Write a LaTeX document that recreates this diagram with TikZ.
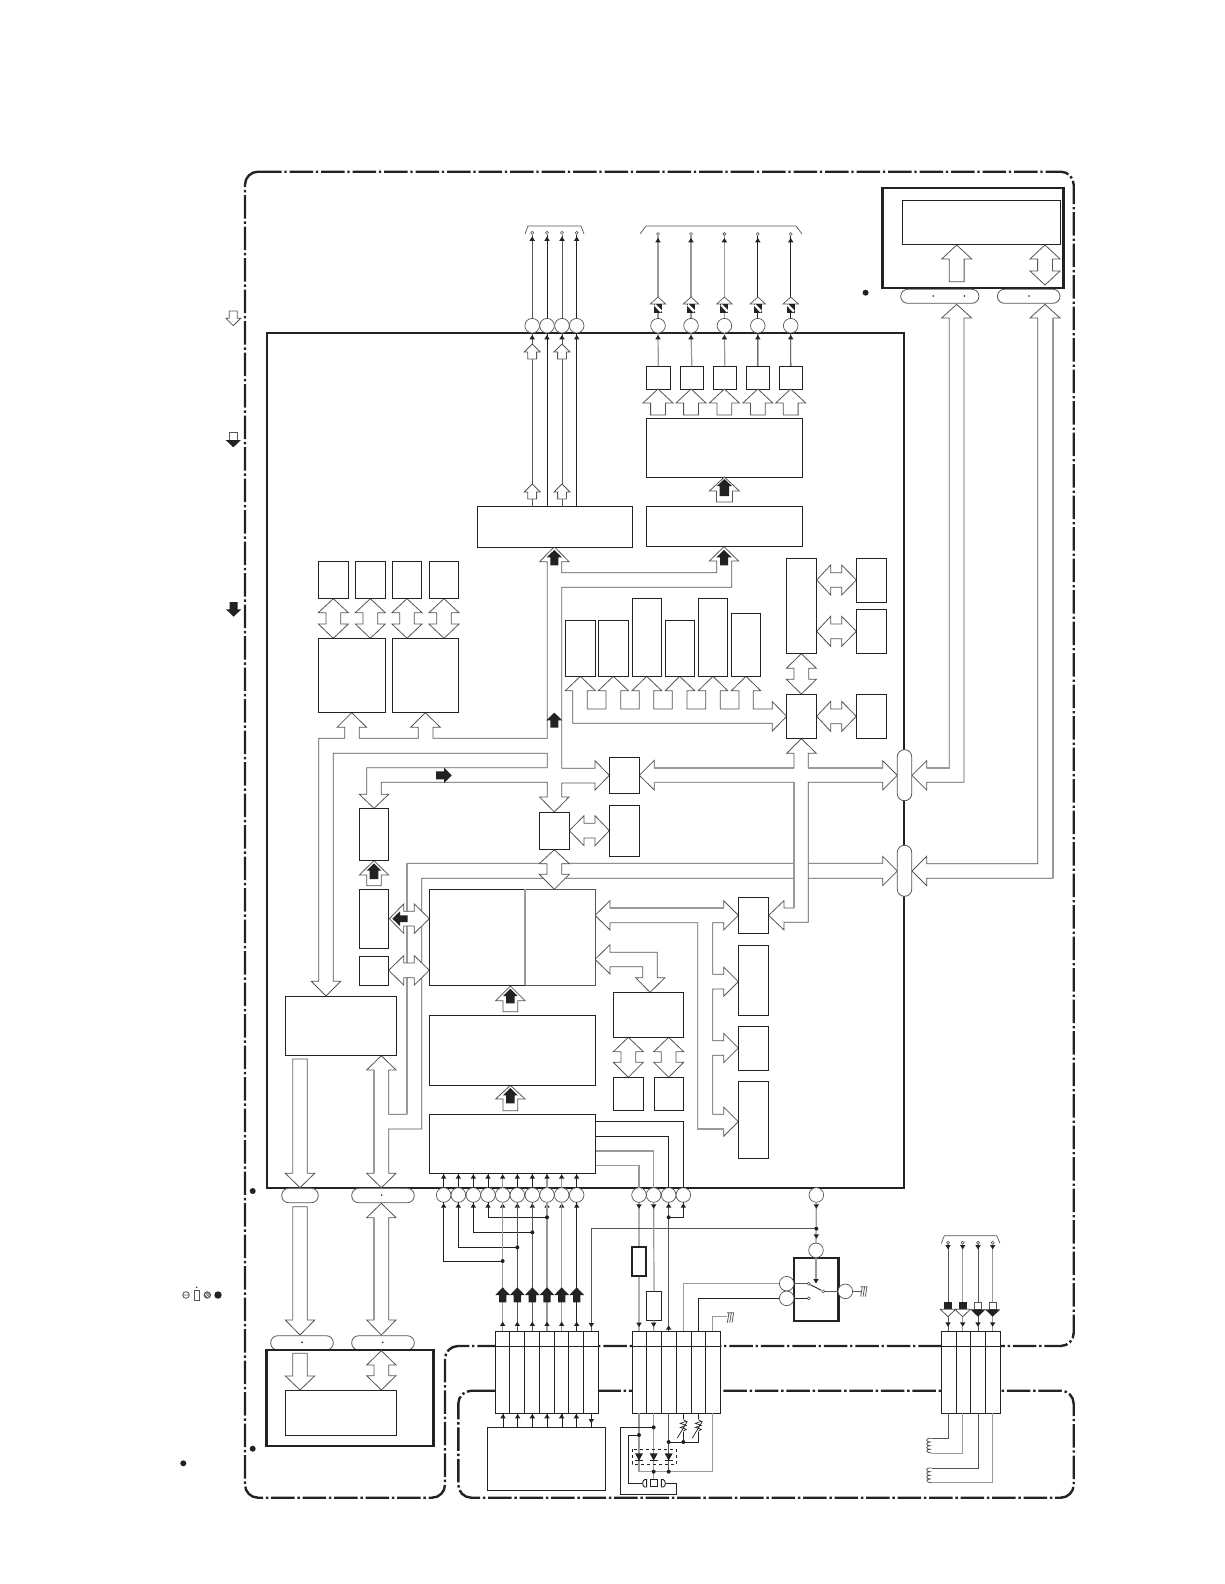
\documentclass[tikz,border=0pt]{standalone}
\definecolor{ink}{HTML}{222222}
\definecolor{gry}{HTML}{9A9A9A}
\definecolor{ol}{HTML}{555555}
\tikzset{
 wd/.style={draw=ink,line width=.9pt},
 wg/.style={draw=gry,line width=1.2pt},
 wm/.style={draw=ol,line width=.8pt},
 blk/.style={draw=ol,fill=white,line width=.8pt,line join=miter},
 bk/.style={fill=ink,draw=none},
 boxst/.style={draw=ink,fill=white,line width=.9pt,inner sep=0pt,outer sep=0pt},
 thickbox/.style={line width=2.6pt},
 pinst/.style={circle,draw=ol,fill=white,line width=.7pt,minimum size=14.6pt,inner sep=0pt,outer sep=0pt},
 pillst/.style={draw=ol,fill=white,line width=.8pt,rounded corners=7pt,inner sep=0pt,outer sep=0pt},
 frm/.style={draw=ink,line width=2.4pt,rounded corners=13pt,dash pattern=on 23.5pt off 2.8pt on 2.4pt off 2.8pt},
 zs/.style 2 args={shift={(#1,#2)},x=.33333pt,y=-.33333pt}
}
\newcommand\bx[6][]{\node[boxst,#1,minimum width={(#5-#3)*1pt},minimum height={(#6-#4)*1pt}] (#2) at ({(#3+#5)/2},{(#4+#6)/2}) {};}
\newcommand\pil[5]{\node[pillst,minimum width={(#4-#2)*1pt},minimum height={(#5-#3)*1pt}] (#1) at ({(#2+#4)/2},{(#3+#5)/2}) {};}
\newcommand\pinc[3]{\node[pinst] (#1) at (#2,#3) {};}
\newcommand\blkU[7][blk]{\path[#1] (#2,#3) -- ({#2+#6},#4) -- ({#2+#7},#4) -- ({#2+#7},#5) -- ({#2-#7},#5) -- ({#2-#7},#4) -- ({#2-#6},#4) -- cycle;}
\newcommand\blkH[7][blk]{\path[#1] (#3,#2) -- (#4,{#2+#6}) -- (#4,{#2+#7}) -- (#5,{#2+#7}) -- (#5,{#2-#7}) -- (#4,{#2-#7}) -- (#4,{#2-#6}) -- cycle;}
\newcommand\dblV[7]{\path[blk] (#1,#2) -- ({#1+#6},#3) -- ({#1+#7},#3) -- ({#1+#7},#4) -- ({#1+#6},#4) -- (#1,#5) -- ({#1-#6},#4) -- ({#1-#7},#4) -- ({#1-#7},#3) -- ({#1-#6},#3) -- cycle;}
\newcommand\dblH[7]{\path[blk] (#2,#1) -- (#3,{#1+#6}) -- (#3,{#1+#7}) -- (#4,{#1+#7}) -- (#4,{#1+#6}) -- (#5,#1) -- (#4,{#1-#6}) -- (#4,{#1-#7}) -- (#3,{#1-#7}) -- (#3,{#1-#6}) -- cycle;}
\newcommand\tipU[2]{\fill[ink] (#1,#2) -- ++(2.7pt,-4.3pt) -- ++(-5.4pt,0pt) -- cycle;}
\newcommand\tipD[2]{\fill[ink] (#1,#2) -- ++(2.7pt,4.3pt) -- ++(-5.4pt,0pt) -- cycle;}
\newcommand\jdot[2]{\fill[ink] (#1,#2) circle[radius=2pt];}
\newcommand\sdot[2]{\fill[ink] (#1,#2) circle[radius=.9pt];}
\newcommand\term[2]{\draw[wm,fill=white,line width=.6pt] (#1,#2) circle[radius=1.5pt];}
\newcommand\gndsym[2]{\draw[wm,line width=.8pt] ({#1-1},{#2-14}) -- ({#1+19},{#2-14}) ({#1+5},{#2-14}) -- (#1,{#2+16}) ({#1+12},{#2-14}) -- ({#1+7},{#2+16}) ({#1+19},{#2-14}) -- ({#1+14},{#2+16});}
\newcommand\vres[2]{\draw[wd,line width=.7pt] (#1,{#2-5}) -- ({#1+9},{#2}) -- ({#1-9},{#2+6}) -- ({#1+9},{#2+12}) -- ({#1-9},{#2+18}) -- ({#1+9},{#2+24}) -- (#1,{#2+30}); \draw[wd,line width=.7pt] ({#1-18},{#2+50}) -- ({#1+12},{#2});}
\newcommand\coil[2]{\draw[wm] ({#1+10},{#2}) -- ({#1+3},{#2}) .. controls ({#1-8},{#2}) and ({#1-8},{#2+11}) .. ({#1+5},{#2+11}) .. controls ({#1-8},{#2+11}) and ({#1-8},{#2+22}) .. ({#1+5},{#2+22}) .. controls ({#1-8},{#2+22}) and ({#1-8},{#2+33}) .. ({#1+5},{#2+33}) .. controls ({#1-8},{#2+33}) and ({#1-8},{#2+44}) .. ({#1+10},{#2+44});}
\newcommand\conn[4]{\bx{#1}{#2}{1331.3}{#3}{1413.3}\draw[wd] (#1.west |- 0,1346) -- (#1.east |- 0,1346); \foreach \v in {#4}{\draw[wd] (\v,1331.3) -- (\v,1413.3);}}
\begin{document}
\begin{tikzpicture}[x=1pt,y=-1pt]
\useasboundingbox (0,0) rectangle (1224,1584);
% frames
\draw[frm] (245,171.7) -- (1073.7,171.7) -- (1073.7,1346) -- (445,1346) -- (445,1497.7) -- (245,1497.7) -- cycle;
\draw[frm] (458.3,1390.7) -- (1073.7,1390.7) -- (1073.7,1497.7) -- (458.3,1497.7) -- cycle;
% main block
\node[draw=ink,line width=2.2pt,minimum width=637.7pt,minimum height=854.7pt,inner sep=0pt,outer sep=0pt] (mainbox) at (585.5,760.3) {};
% marks
\fill[ink] (865.6,292.7) circle[radius=3pt];
\fill[ink] (252.7,1191) circle[radius=3pt];
\fill[ink] (252.7,1448.7) circle[radius=3pt];
\fill[ink] (183.3,1463.3) circle[radius=3pt];
\begin{scope}[zs={170}{290}]
 \blkU[blk]{190}{107}{85}{63}{22}{12}
 \path[blk] (178,427) rectangle (203,450);
 \fill[ink] (167,450) -- (213,450) -- (190,472) -- cycle;
 \blkU[bk]{191}{980}{958}{936}{23}{12}
\end{scope}
\begin{scope}[zs={170}{1170}]
 \draw[wm] (48,375) circle[radius=3.3pt] (41,375) -- (55,375);
 \draw[wm] (73,362) rectangle (87,392);
 \fill[ink] (80,352) circle[radius=.8pt];
 \draw[wm] (112,375) circle[radius=3.3pt] (105,368) -- (119,382) (102,373) -- (114,385) (109,365) -- (122,378);
 \fill[ink] (144,375) circle[radius=3.7pt];
\end{scope}

% buses: right side
\begin{scope}[zs={560}{540}]
 \path[blk] (1190,-707) -- (1235,-666) -- (1212,-666) -- (1212,727) -- (1100,727) -- (1100,750) -- (1056,706) -- (1100,662) -- (1100,684) -- (1168,684) -- (1168,-666) -- (1145,-666) -- cycle;
 \path[blk] (1455,-707) -- (1500,-666) -- (1479,-666) -- (1479,1015) -- (1100,1015) -- (1100,1037) -- (1056,993) -- (1100,949) -- (1100,971) -- (1433,971) -- (1433,-666) -- (1410,-666) -- cycle;
 \draw[wg] (1168,-666) -- (1168,684) -- (1100,684);
 \draw[wg] (1479,-666) -- (1479,1015);
\end{scope}
% bus B
\begin{scope}[zs={260}{540}]
 \path[blk] (905,970) -- (1868,970) -- (1868,949) -- (1912,993) -- (1868,1037) -- (1868,1015) -- (905,1015);
 \path[blk] (862,970) -- (441,970) -- (441,1723) -- (386,1723) -- (386,1590) -- (408,1590) -- (364,1547) -- (320,1590) -- (342,1590) -- (342,1900) -- (320,1900) -- (364,1943) -- (408,1900) -- (386,1900) -- (386,1767) -- (485,1767) -- (485,1015) -- (862,1015);
 \draw[wg] (441,970) -- (441,1723);
 \draw[wg] (342,1590) -- (342,1900);
\end{scope}
% bus C, D, comb
\begin{scope}[zs={560}{540}]
 \path[blk] (724,596) -- (769,640) -- (745,640) -- (745,684) -- (968,684) -- (968,662) -- (1012,706) -- (968,750) -- (968,727) -- (745,727) -- (745,1147) -- (672,1147) -- (672,1170) -- (626,1126) -- (672,1082) -- (672,1104) -- (702,1104) -- (702,727) -- (283,727) -- (283,750) -- (238,706) -- (283,661) -- (283,684) -- (702,684) -- (702,640) -- (680,640) -- cycle;
 \draw[wg] (702,727) -- (702,1104) (283,684) -- (702,684) (283,727) -- (702,727) (745,684) -- (968,684);
 \path[blk] (105,1126) -- (150,1082) -- (150,1104) -- (491,1104) -- (491,1082) -- (535,1126) -- (491,1170) -- (491,1148) -- (458,1148) -- (458,1303) -- (491,1303) -- (491,1281) -- (535,1325) -- (491,1369) -- (491,1347) -- (458,1347) -- (458,1502) -- (491,1502) -- (491,1480) -- (535,1524) -- (491,1568) -- (491,1546) -- (458,1546) -- (458,1723) -- (491,1723) -- (491,1701) -- (535,1745) -- (491,1789) -- (491,1767) -- (413,1767) -- (413,1148) -- (150,1148) -- (150,1170) -- cycle;
 \draw[wg] (150,1104) -- (491,1104) (150,1148) -- (413,1148) -- (413,1767) -- (491,1767);
 \path[blk] (680,529) -- (637,485) -- (637,507) -- (580,507) -- (580,452) -- (602,452) -- (558,409) -- (514,452) -- (537,452) -- (537,507) -- (481,507) -- (481,452) -- (503,452) -- (459,409) -- (415,452) -- (437,452) -- (437,507) -- (381,507) -- (381,452) -- (404,452) -- (359,409) -- (316,452) -- (337,452) -- (337,507) -- (281,507) -- (281,452) -- (305,452) -- (260,409) -- (216,452) -- (238,452) -- (238,507) -- (182,507) -- (182,452) -- (205,452) -- (160,409) -- (115,452) -- (138,452) -- (138,507) -- (82,507) -- (82,452) -- (106,452) -- (61,409) -- (16,452) -- (38,452) -- (38,550) -- (637,550) -- (637,573) -- cycle;
 \dblH{120}{770}{812}{845}{889}{45}{22}
 \dblH{274}{770}{812}{845}{889}{45}{22}
 \dblH{529}{770}{812}{845}{889}{45}{22}
 \dblV{724}{341}{385}{418}{462}{45}{22}
\end{scope}
% bus A
\begin{scope}[zs={260}{540}]
 \path[blk] (883,20) -- (927,65) -- (905,65) -- (905,98) -- (1370,98) -- (1370,63) -- (1348,63) -- (1392,20) -- (1436,63) -- (1415,63) -- (1415,142) -- (905,142) -- (905,685) -- (1005,685) -- (1005,662) -- (1048,706) -- (1005,750) -- (1005,729) -- (905,729) -- (905,771) -- (927,771) -- (883,816) -- (839,771) -- (862,771) -- (862,727) -- (364,727) -- (364,763) -- (386,763) -- (342,805) -- (298,763) -- (320,763) -- (320,683) -- (862,683) -- (862,640) -- (220,640) -- (220,1324) -- (242,1324) -- (198,1368) -- (154,1324) -- (176,1324) -- (176,595) -- (254,595) -- (254,562) -- (231,562) -- (275,518) -- (320,562) -- (298,562) -- (298,595) -- (475,595) -- (475,562) -- (452,562) -- (496,518) -- (541,562) -- (519,562) -- (519,595) -- (862,595) -- (862,65) -- (839,65) -- cycle;
 \draw[wg] (862,65) -- (862,595) (905,142) -- (905,685) (320,683) -- (862,683);
 \blkU[bk]{883}{30}{52}{76}{23}{12}
 \blkU[bk]{1392}{30}{52}{76}{23}{12}
 \blkU[bk]{883}{518}{541}{563}{24}{12}
 \blkH[bk]{706}{575}{552}{528}{23}{12}
 \dblV{220}{176}{218}{252}{295}{45}{22}
 \dblV{331}{176}{218}{252}{295}{45}{22}
 \dblV{441}{176}{218}{252}{295}{45}{22}
 \dblV{552}{176}{218}{252}{295}{45}{22}
 \dblH{872}{928}{972}{1005}{1048}{45}{22}
 \dblV{883}{929}{971}{1003}{1048}{45}{22}
 \blkU{342}{962}{1005}{1037}{44}{22}
 \blkU[bk]{342}{970}{992}{1017}{22}{13}
\end{scope}
% lower-left group
\begin{scope}[zs={260}{860}]
 \dblH{176}{388}{431}{463}{508}{44}{22}
 \blkH[bk]{176}{397}{420}{443}{22}{10}
 \dblH{331}{386}{431}{463}{508}{44}{22}
 \path[blk] (98,597) -- (142,597) -- (142,940) -- (164,940) -- (120,983) -- (76,940) -- (98,940) -- cycle;
 \draw[wg] (98,597) -- (98,940);
 \blkU{751}{378}{422}{455}{44}{22}
 \blkU[bk]{751}{386}{408}{430}{22}{13}
 \blkU{751}{676}{717}{752}{44}{22}
 \blkU[bk]{751}{684}{706}{730}{22}{13}
 \path[blk] (1005,298) -- (1050,254) -- (1050,277) -- (1192,277) -- (1192,353) -- (1215,353) -- (1170,397) -- (1127,353) -- (1148,353) -- (1148,320) -- (1050,320) -- (1050,342) -- cycle;
 \dblV{1105}{532}{575}{607}{652}{45}{22}
 \dblV{1226}{532}{575}{607}{652}{45}{22}
\end{scope}

% upper blocks
\bx[thickbox]{dispframe}{882.5}{188}{1063.5}{288}
\bx{dispinner}{902}{200}{1060}{244}
\blkU{956.7}{245}{259}{281.7}{15}{7.4}
\dblV{1045}{245}{259}{271}{285}{15}{7.4}
\pil{pilla}{900.7}{289.3}{979}{303.3}
\pil{pillb}{997.4}{289.3}{1060}{303.3}
\sdot{933.3}{296}\sdot{964.4}{296}\sdot{1029}{296}
\bx{ctlL}{477.7}{506.7}{632.6}{547}
\bx{ctlR}{646.7}{506.7}{802}{546.7}
\bx{drv}{646.7}{418}{802}{477}
\foreach \n/\xa/\xb in {a/646.7/670,b/680.7/703,c/713.7/736,d/746.7/769,e/779.6/802}{\bx{ob\n}{\xa}{366.3}{\xb}{389}}
\foreach \x in {658,691,724.4,757.8,790.7}{\blkU{\x}{389}{403}{415}{15}{7.4}}
\blkU{724.4}{477}{491}{502}{15}{8}
\blkU[bk]{724.4}{479}{486}{496}{7.5}{4.7}
% output groups
\draw[draw=ol,line width=.7pt] (525,234) -- (528,226) -- (581,226) -- (584,234);
\draw[draw=ol,line width=.7pt] (640,234) -- (646,226) -- (796,226) -- (802,234);
\foreach \n/\x/\s in {a/532.2/wm,b/547/wd,c/562/wm,d/576.7/wd}{
 \pinc{g\n}{\x}{325.7}
 \term{\x}{232.8}
 \draw[\s] (g\n.north) -- (\x,235);
 \draw[\s] (g\n.south) -- (g\n.south |- ctlL.north);
 \tipU{\x}{236.5}\tipU{\x}{335}
}
\foreach \y/\s/\b in {344/352/359,484/492/499}{\blkU{532.2}{\y}{\s}{\b}{8}{4.4}\blkU{562}{\y}{\s}{\b}{8}{4.4}}
\foreach \n/\x/\s in {a/658/wg,b/691/wg,c/724.4/wg,d/757.8/wd,e/790.7/wd}{
 \pinc{h\n}{\x}{325.7}
 \term{\x}{234}
 \draw[\s] (h\n.north) -- (\x,236);
 \draw[\s] (h\n.south) -- (ob\n.north);
 \tipU{\x}{238}\tipU{\x}{335}
 \path[blk,line width=.7pt] (\x,297) -- ({\x+7.7},304) -- ({\x-7.7},304) -- cycle;
 \fill[ink] ({\x-4},304) rectangle ({\x+4},312.5);
 \fill[white] ({\x-4},305.5) -- ({\x-2.5},304) -- ({\x+4},310.5) -- ({\x+2.5},312.5) -- cycle;
}
% memory boxes
\foreach \n/\xa/\xb in {a/318.3/348.7,b/355.3/385.7,c/392.3/421.7,d/429.3/458.7}{\bx{mem\n}{\xa}{561.3}{\xb}{598.3}}
\bx{ctlmA}{318.3}{638.3}{385.7}{712.7}
\bx{ctlmB}{392.3}{638.3}{458.7}{712.7}
% columns
\foreach \n/\xa/\xb/\t in {a/565.3/595.3/620.3,b/598.3/628.3/620.3,c/632.3/661.7/598.3,d/665.3/694.7/620.3,e/698.3/727.7/598.3,f/731.3/760.7/613.3}{\bx{col\n}{\xa}{\t}{\xb}{676.3}}
\bx{rtall}{786.3}{558.3}{816.7}{653.3}
\bx{rsmall}{786.3}{694.3}{816.7}{738.3}
\bx{rba}{856.3}{558.3}{886.7}{602.3}
\bx{rbb}{856.3}{609.3}{886.7}{653.3}
\bx{rbc}{856.3}{694.3}{886.7}{738.3}
\bx{cenA}{609.3}{757.3}{639.3}{793.3}
\bx{cenB}{609.3}{805.7}{639.3}{856.3}
\bx{cenC}{539.3}{812.3}{569.3}{849.3}
\bx{lfA}{359.3}{808.3}{388.7}{860.3}
\bx{lfB}{359.3}{889.3}{388.7}{948.3}
\bx{lfC}{359.3}{956.7}{388.7}{985.3}
% core
\bx{m1}{429.3}{889.3}{595}{985.3}
\draw[draw=ol,line width=.9pt] (525,889.3) -- (595,889.3) -- (595,985.3) -- (525,985.3);
\draw[wg] (525,889.3) -- (525,985.3);
\bx{m2}{429.3}{1015.3}{595.7}{1085.3}
\bx{m3}{429.3}{1114.3}{595.7}{1173.3}
\bx{lfD}{285.3}{996.3}{396.7}{1055.3}
\bx{rgA}{613.3}{992.3}{683.7}{1037.3}
\bx{rgB}{613.3}{1077.3}{643.7}{1110.3}
\bx{rgC}{654.3}{1077.3}{683.7}{1110.3}
\bx{sa}{738.3}{897.3}{768.7}{933.3}
\bx{sb}{738.3}{945.3}{768.7}{1015.3}
\bx{sc}{738.3}{1026.3}{768.7}{1070.3}
\bx{sd}{738.3}{1081.3}{768.7}{1158.3}
% centre pills
\pil{pillc}{897.3}{749.7}{911.7}{800.7}
\pil{pilld}{897.3}{845.3}{911.7}{896.3}
% bottom pills and buses
\pil{pille}{281.7}{1188.3}{318.3}{1202.7}
\pil{pillf}{351.7}{1188.3}{414.3}{1202.7}
\pil{pillg}{270.7}{1335.7}{333.3}{1350}
\pil{pillh}{351.7}{1335.7}{414.3}{1350}
\bx[thickbox]{lowframe}{266.7}{1350}{433.3}{1446}
\bx{lowinner}{285.3}{1390}{396.7}{1435.3}
\begin{scope}[zs={170}{1170}]
 \path[blk] (368,110) -- (412,110) -- (412,450) -- (434,450) -- (390,495) -- (346,450) -- (368,450) -- cycle;
 \draw[wg] (368,110) -- (368,450);
 \dblV{634}{100}{143}{450}{495}{44}{22}
 \draw[wg] (612,143) -- (612,450);
 \path[blk] (368,550) -- (412,550) -- (412,618) -- (434,618) -- (390,660) -- (346,618) -- (368,618) -- cycle;
 \dblV{634}{542}{585}{617}{660}{44}{22}
 \sdot{635}{75}\sdot{396}{517}\sdot{638}{517}
\end{scope}
% connectors
\conn{ca}{495.3}{598.7}{509.7,524.7,539.7,554.7,568.7,583.7}
\conn{cb}{632.3}{720.7}{646.3,661.7,676.7,691.7,705.7}
\conn{cc}{941.3}{1000.7}{956.3,970.3,985.7}
% input pins, left group
\bx[line width=1.5pt]{cpu}{487.7}{1427.3}{605.3}{1490.3}
\begin{scope}[zs={420}{1170}]
 \foreach \i/\x/\s in {0/71/wd,1/115/wd,2/160/wd,3/204/wd,4/248/wg,5/292/wd,6/337/wd,7/381/wg,8/425/wg,9/470/wd}{
  \pinc{pb\i}{\x}{75}
  \draw[\s] (pb\i.north) -- (\x,13);
  \tipU{\x}{13}\tipU{\x}{100}
 }
 \draw[wd] (pb0.south) |- (248,273);
 \draw[wd] (pb1.south) |- (292,232);
 \draw[wd] (pb2.south) |- (337,187);
 \draw[wd] (pb3.south) |- (381,142);
 \foreach \i/\x/\s in {4/248/wg,5/292/wm,6/337/wm,7/381/wg,8/425/wg,9/470/wd}{
  \draw[\s] (pb\i.south) -- (\x,484);
  \blkU[bk]{\x}{352}{375}{397}{22}{11}
  \tipU{\x}{455}
 }
 \jdot{248}{273}\jdot{292}{232}\jdot{337}{187}\jdot{381}{142}
 \draw[wm] (514,484) -- (514,176) -- (1188,176);
 \tipD{514}{472}
 \foreach \x/\xb in {249/250,293/293,337/337,381/381,425/428,469/470}{
  \draw[wd] (\xb,730) -- (\xb,772);
  \tipU{\x}{732}
 }
 \draw[wd] (514,730) -- (514,772);
 \tipD{514}{760}
\end{scope}
% right pins
\bx[line width=1.7pt]{ra}{631.7}{1247}{646.3}{1276.3}
\bx{rb}{646.3}{1291.3}{661.7}{1320.3}
\bx[thickbox]{swbox}{794}{1258}{838.3}{1321}
\begin{scope}[zs={620}{1170}]
 \pinc{pc0}{57}{75}\pinc{pc1}{101}{75}\pinc{pc2}{146}{75}\pinc{pc3}{190}{75}
 \pinc{ps}{589}{75}\pinc{sw1}{588}{241}\pinc{sw2}{500}{341}\pinc{sw3}{500}{385}\pinc{sw4}{676}{364}
 \draw[wd] (pc0.south) -- (ra.north);
 \draw[wd] (ra.south) -- (57,484);
 \draw[wg] (pc1.south) -- (rb.north);
 \draw[wg] (rb.south) -- (101,484);
 \draw[wm] (pc2.south) -- (146,484);
 \draw[wd] (146,142) -| (pc3.south);
 \tipD{57}{116}\tipD{57}{471}\tipD{101}{116}\tipD{101}{471}
 \tipU{146}{100}\tipU{190}{100}\tipU{146}{466}
 \jdot{146}{142}
 % switch feed
 \draw[wg] (ps.south) -- (sw1.north);
 \tipD{589}{116}\tipD{589}{206}\jdot{589}{176}
 \draw[wg] (sw1.south) -- (588,340);
 \tipD{588}{340}
 \draw[wm] (sw2.east) -- (560,341);
 \draw[wd] (sw3.east) -- (560,385);
 \draw[wm] (616,364) -- (sw4.west);
 \draw[wd] (571,344) -- (604,361);
 \term{566}{341}\term{566}{385}\term{610}{364}
 \draw[wm] (sw4.east) -- (722,364);
 \gndsym{722}{364}
 \draw[wg] (sw2.west) -| (190,484);
 \draw[wd] (sw3.west) -| (235,484);
 \draw[wg] (278,484) |- (322,440);
 \gndsym{322}{442}
 % below connector
 \draw[wg] (57,730) -- (57,905);
 \draw[wg] (101,730) -- (101,928);
 \draw[wm] (146,730) -- (146,905);
 \draw[wg] (57,905) -- (278,905) -- (278,730);
 \draw[wd] (190,730) -- (190,748);
 \draw[wd] (190,786) -- (190,816);
 \draw[wd] (235,730) -- (235,748);
 \draw[wd] (235,786) -- (235,816) -- (146,816);
 \vres{190}{754}\vres{235}{754}
 \jdot{146}{816}\jdot{190}{816}\jdot{101}{905}\jdot{146}{905}\jdot{57}{795}\jdot{101}{772}
 \draw[wd] (101,772) -- (2,772) -- (2,972) -- (170,972) -- (170,940) -- (137,940);
 \draw[wd] (57,795) -- (25,795) -- (25,940) -- (66,940);
 \draw[wd,dashed,line width=.7pt] (37,838) rectangle (170,883);
 \foreach \x in {57,101,146}{\fill[ink] ({\x-12},850) -- ({\x+12},850) -- (\x,872) -- cycle; \draw[wd] ({\x-12},872) -- ({\x+12},872);}
 \draw[wd,fill=white] (91,928) rectangle (112,949);
 \draw[wd,fill=white] (80,929) -- (74,929) .. controls (66,932) and (66,948) .. (74,951) -- (80,951) -- cycle;
 \draw[wd,fill=white] (124,929) -- (130,929) .. controls (138,932) and (138,948) .. (130,951) -- (124,951) -- cycle;
\end{scope}
% motor / output group
\begin{scope}[zs={900}{1200}]
 \draw[draw=ol,line width=.7pt] (124,130) -- (133,107) -- (290,107) -- (300,130);
 \foreach \n/\x/\s in {a/144/wm,b/188/wg,c/234/wm,d/278/wg}{
  \term{\x}{128}
  \draw[\s] (\x,132) -- (\x,394);
  \tipD{\x}{148}\tipD{\x}{380}
 }
 \foreach \x in {144,188}{
  \fill[ink] ({\x-12},306) rectangle ({\x+12},328);
  \path[blk] ({\x-23},328) -- ({\x+23},328) -- (\x,350) -- cycle;
 }
 \foreach \x in {234,278}{
  \path[blk] ({\x-11},306) rectangle ({\x+11},328);
  \fill[ink] ({\x-23},328) -- ({\x+23},328) -- (\x,350) -- cycle;
 }
 \draw[wm] (145,640) -- (145,715) -- (95,715);
 \draw[wg] (188,640) -- (188,760) -- (95,760);
 \draw[wm] (235,640) -- (235,804) -- (95,804);
 \draw[wg] (278,640) -- (278,848) -- (95,848);
 \coil{85}{715}\coil{85}{804}
\end{scope}
% top-right output wires of m3
\draw[wd] (m3.east |- 0,1121.3) -| (pc3.north);
\draw[wd] (m3.east |- 0,1136.3) -| (pc2.north);
\draw[wg] (m3.east |- 0,1151) -| (pc1.north);
\draw[wg] (m3.east |- 0,1165.7) -| (pc0.north);
\end{tikzpicture}
\end{document}
